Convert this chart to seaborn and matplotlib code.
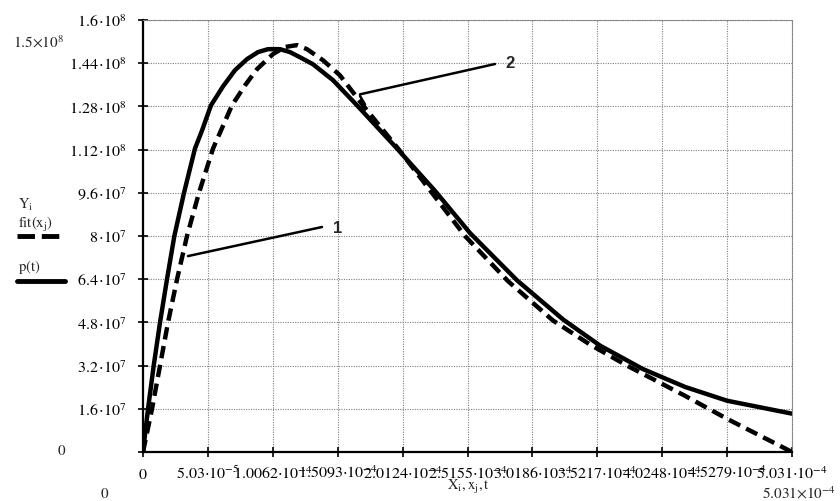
import numpy as np
import pandas as pd
import seaborn as sns
import matplotlib.pyplot as plt
from matplotlib.lines import Line2D

# Curve p(t) (solid)
t_vals = [0, 0.039e-4, 0.083e-4, 0.132e-4, 0.186e-4, 0.243e-4, 0.318e-4, 0.403e-4,
          0.457e-4, 0.527e-4, 0.620e-4, 0.713e-4, 0.806e-4, 0.891e-4, 0.969e-4,
          1.062e-4, 1.140e-4, 1.217e-4, 1.318e-4, 1.473e-4, 1.659e-4, 1.969e-4,
          2.264e-4, 2.535e-4, 2.899e-4, 3.256e-4, 3.543e-4, 3.876e-4, 4.202e-4,
          4.527e-4, 5.031e-4]
p_vals = [0, 16e6, 32e6, 48e6, 64e6, 80e6, 96e6, 112.4e6,
          119e6, 128.4e6, 135.4e6, 141.4e6, 145.5e6, 148.1e6, 149.2e6,
          149.2e6, 148.1e6, 146.2e6, 143.6e6, 137.7e6, 128.4e6, 112.4e6,
          96.7e6, 81.1e6, 63.6e6, 49.1e6, 39.4e6, 30.7e6, 24.1e6,
          19e6, 14.2e6]

# Fitted curve fit(x_j) (dashed)
x_fit = [0, 0.070e-4, 0.132e-4, 0.194e-4, 0.264e-4, 0.341e-4, 0.434e-4, 0.543e-4,
         0.690e-4, 0.791e-4, 0.884e-4, 1.008e-4, 1.101e-4, 1.194e-4, 1.271e-4,
         1.395e-4, 1.527e-4, 1.705e-4, 1.977e-4, 2.240e-4, 2.496e-4, 2.829e-4,
         3.178e-4, 3.465e-4, 3.752e-4, 4.202e-4, 4.527e-4, 5.031e-4]
y_fit = [0, 16e6, 32e6, 48e6, 64e6, 80e6, 96e6, 112.4e6,
         128.4e6, 135.8e6, 141.8e6, 147.4e6, 150e6, 150.7e6, 149.2e6,
         145.1e6, 139.5e6, 128.4e6, 112.4e6, 96e6, 80e6, 63.3e6,
         48.7e6, 39.8e6, 32e6, 20.8e6, 12.3e6, 0]

x_ticks = [0, 0.503e-4, 1.0062e-4, 1.5093e-4, 2.0124e-4, 2.5155e-4, 3.0186e-4,
           3.5217e-4, 4.0248e-4, 4.5279e-4, 5.031e-4]
x_tick_labels = [r'$0$', r'$5.03{\cdot}10^{-5}$', r'$1.0062{\cdot}10^{-4}$', r'$1.5093{\cdot}10^{-4}$',
                 r'$2.0124{\cdot}10^{-4}$', r'$2.5155{\cdot}10^{-4}$', r'$3.0186{\cdot}10^{-4}$',
                 r'$3.5217{\cdot}10^{-4}$', r'$4.0248{\cdot}10^{-4}$', r'$4.5279{\cdot}10^{-4}$',
                 r'$5.031{\cdot}10^{-4}$']
y_ticks = [0, 1.6e7, 3.2e7, 4.8e7, 6.4e7, 8e7, 9.6e7, 1.12e8, 1.28e8, 1.44e8, 1.6e8]
y_tick_labels = ['', r'$1.6\,{\cdot}10^{7}$', r'$3.2\,{\cdot}10^{7}$', r'$4.8\,{\cdot}10^{7}$',
                 r'$6.4\,{\cdot}10^{7}$', r'$8\,{\cdot}10^{7}$', r'$9.6\,{\cdot}10^{7}$',
                 r'$1.12\,{\cdot}10^{8}$', r'$1.28\,{\cdot}10^{8}$', r'$1.44\,{\cdot}10^{8}$',
                 r'$1.6\,{\cdot}10^{8}$']

df_p = pd.DataFrame({'t': t_vals, 'p': p_vals})
df_fit = pd.DataFrame({'x': x_fit, 'y': y_fit})

sns.set_theme(style='white')
plt.rcParams['font.family'] = ['Liberation Serif', 'DejaVu Serif']
plt.rcParams['mathtext.fontset'] = 'stix'

W, H = 840, 502
fig = plt.figure(figsize=(W / 100, H / 100), dpi=100)
ax = fig.add_axes([143 / W, 1 - 453 / H, (792 - 143) / W, (453 - 21) / H])

sns.lineplot(data=df_fit, x='x', y='y', ax=ax, color='black', lw=3.2,
             linestyle=(0, (2.8, 1.5)), sort=False)
sns.lineplot(data=df_p, x='t', y='p', ax=ax, color='black', lw=3.2, sort=False)

ax.set_xlim(0, 5.031e-4)
ax.set_ylim(0, 1.6e8)
ax.set_xticks(x_ticks, labels=x_tick_labels)
ax.set_yticks(y_ticks, labels=y_tick_labels)
ax.set_xlabel('')
ax.set_ylabel('')
ax.grid(True, color='#808080', linestyle=(0, (1, 1.2)), lw=0.8)
ax.tick_params(direction='inout', length=7, width=1.2, colors='black',
               labelsize=11.5, bottom=True, left=True)
ax.tick_params(axis='y', pad=8)
ax.tick_params(axis='x', pad=15)
for tk in ax.xaxis.get_major_ticks():
    tk.label1.set_va('baseline')

for s in ['top', 'right']:
    ax.spines[s].set(color='#808080', linestyle=(0, (1, 1.2)), lw=0.8)
for s in ['left', 'bottom']:
    ax.spines[s].set(color='black', lw=1.6)

# leader lines for curve numbers
ax.annotate('', xy=(3.488e-5, 7.256e7), xytext=(322, H - 228), textcoords='figure pixels',
            arrowprops=dict(arrowstyle='-', lw=1.8, color='black', shrinkA=0, shrinkB=0))
ax.annotate('', xy=(1.682e-4, 1.3247e8), xytext=(495, H - 65), textcoords='figure pixels',
            arrowprops=dict(arrowstyle='-', lw=1.8, color='black', shrinkA=0, shrinkB=0))
ax.annotate('', xy=(1.721e-4, 1.2874e8), xytext=(360, H - 97), textcoords='figure pixels',
            arrowprops=dict(arrowstyle='-', lw=1.8, color='black', shrinkA=0, shrinkB=0))
fig.text(333 / W, 1 - 233 / H, '1', fontsize=12, fontweight='bold',
         family='Liberation Sans', va='baseline')
fig.text(505 / W, 1 - 68 / H, '2', fontsize=12, fontweight='bold',
         family='Liberation Sans', va='baseline')

# Mathcad-style limit labels and axis names
fig.text(13 / W, 1 - 48 / H, r'$1.5{\times}10^{8}$', fontsize=11, va='baseline')
fig.text(57 / W, 1 - 455 / H, r'$0$', fontsize=11, va='baseline')
fig.text(100 / W, 1 - 498 / H, r'$0$', fontsize=11, va='baseline')
fig.text(762 / W, 1 - 499 / H, r'$5.031{\times}10^{-4}$', fontsize=11, va='baseline')
fig.text(447 / W, 1 - 490 / H, r'$\mathrm{X_{i}, x_{j}, t}$', fontsize=10.5, va='baseline')

fig.text(18 / W, 1 - 209 / H, r'$\mathrm{Y_{i}}$', fontsize=10.5, va='baseline')
fig.text(18 / W, 1 - 228 / H, r'$\mathrm{fit}\left(\mathrm{x_{j}}\right)$', fontsize=10.5, va='baseline')
fig.text(18 / W, 1 - 271 / H, r'$\mathrm{p(t)}$', fontsize=10.5, va='baseline')
fig.add_artist(Line2D([17 / W, 65 / W], [1 - 237 / H, 1 - 237 / H], color='black', lw=3.5,
                      linestyle=(0, (3.6, 1.4)), transform=fig.transFigure))
fig.add_artist(Line2D([17 / W, 65 / W], [1 - 282 / H, 1 - 282 / H], color='black', lw=3.5,
                      transform=fig.transFigure))

fig.savefig('out.png', dpi=100)
